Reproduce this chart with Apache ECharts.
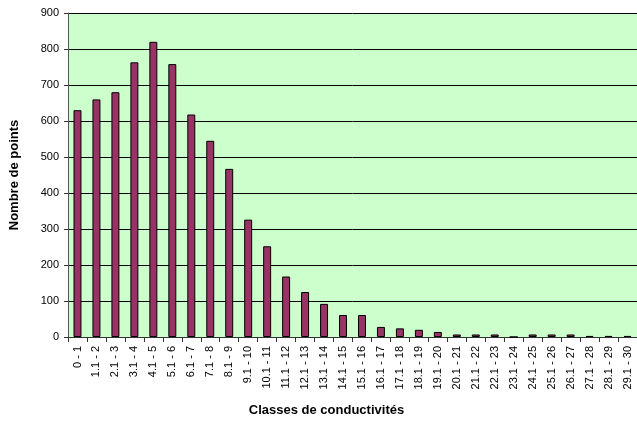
<!DOCTYPE html>
<html><head><meta charset="utf-8">
<script src="https://cdn.jsdelivr.net/npm/echarts@6/dist/echarts.min.js"></script>
<style>html,body{margin:0;padding:0;background:#fff}#c{width:637px;height:425px}</style>
</head><body><div id="c"></div>
<script>
const categories = ["0 - 1","1.1 - 2","2.1 - 3","3.1 - 4","4.1 - 5","5.1 - 6","6.1 - 7","7.1 - 8","8.1 - 9","9.1 - 10","10.1 - 11","11.1 - 12","12.1 - 13","13.1 - 14","14.1 - 15","15.1 - 16","16.1 - 17","17.1 - 18","18.1 - 19","19.1 - 20","20.1 - 21","21.1 - 22","22.1 - 23","23.1 - 24","24.1 - 25","25.1 - 26","26.1 - 27","27.1 - 28","28.1 - 29","29.1 - 30"];
const values = [630,660,680,763,820,758,618,545,467,326,252,168,125,92,61,61,28,24,20,14,7,7,7,0,7,7,7,3,3,3];
const yTicks = {min:0, max:900, interval:100};
const chart = echarts.init(document.getElementById('c'));
chart.setOption({
  animation:false,
  textStyle:{fontFamily:'Arial, "Liberation Sans", sans-serif'},
  grid:{left:68, top:13, right:0, bottom:88, show:true, backgroundColor:'#CCFFCC', borderWidth:0,
    containLabel:false, outerBoundsMode:'none'},
  xAxis:{type:'category', data:categories,
    name:'Classes de conductivités', nameLocation:'middle', nameGap:67,
    nameTextStyle:{fontSize:13, fontWeight:'bold', color:'#000', padding:[0,52,0,0]},
    axisLine:{lineStyle:{color:'#333', width:1}},
    axisTick:{show:true, length:5, lineStyle:{color:'#333'}},
    axisLabel:{rotate:90, fontSize:11, color:'#000', interval:0, margin:9}},
  yAxis:{type:'value', min:yTicks.min, max:yTicks.max, interval:yTicks.interval,
    name:'Nombre de points', nameLocation:'middle', nameGap:47,
    nameTextStyle:{fontSize:13, fontWeight:'bold', color:'#000'},
    axisLine:{show:true, lineStyle:{color:'#555', width:1}},
    axisTick:{show:true, length:4, lineStyle:{color:'#333'}},
    axisLabel:{fontSize:11, color:'#000', margin:9},
    splitLine:{lineStyle:{color:'#000', width:1}}},
  series:[{type:'bar', data:values, barWidth:'42%',
    itemStyle:{color:'#993366', borderColor:'#000', borderWidth:1}}]
});
</script></body></html>
